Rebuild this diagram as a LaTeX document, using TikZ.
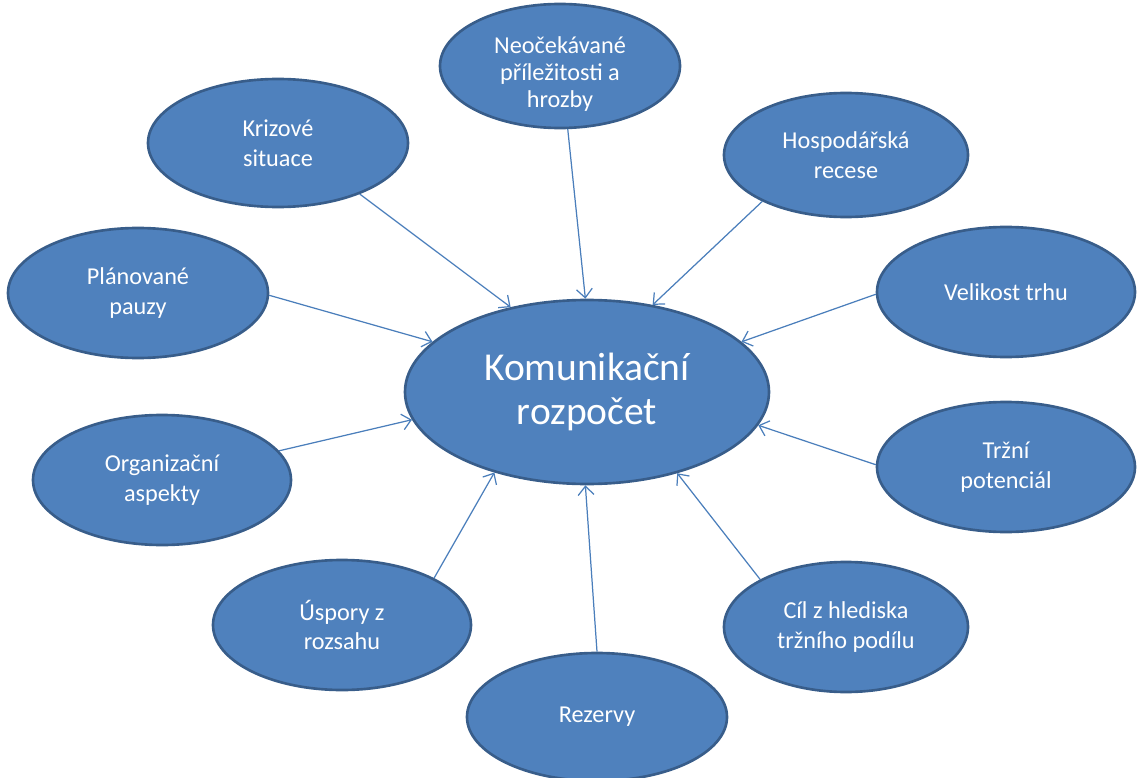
\documentclass[tikz,border=0pt]{standalone}
\usepackage{fontspec}
\setmainfont{Carlito}
\usepackage{tikz}
\usetikzlibrary{arrows.meta,shapes.geometric}
\definecolor{ovfill}{RGB}{79,129,189}
\definecolor{ovline}{RGB}{56,93,138}
\definecolor{arline}{RGB}{74,126,187}
\tikzset{
  leaf/.style={ellipse,fill=ovfill,draw=ovline,line width=1.5pt,inner sep=0pt,
    minimum width=5.16cm,minimum height=2.6cm,align=center,text=white,
    font=\fontsize{13.8}{17}\selectfont},
  hub/.style={leaf,minimum width=7.28cm,minimum height=3.68cm,
    font=\fontsize{22.5}{25.5}\selectfont},
  arr/.style={draw=arline,line width=0.7pt,-{Straight Barb[length=5pt,width=9pt]}},
}
\begin{document}
\begin{tikzpicture}
  \useasboundingbox (0,0) rectangle (22.74,-15.56);
  \node[hub] (hub) at (11.74,-7.84) {Komunikační\\rozpočet};
  \node[leaf,minimum width=4.8cm,minimum height=2.48cm,font=\fontsize{13.8}{15.3}\selectfont] (neo) at (11.2,-1.32)
    {\raisebox{-0.19cm}[\height][\depth]{\begin{tabular}{@{}c@{}}Neočekávané\\příležitosti a\\hrozby\end{tabular}}};
  \node[leaf,minimum width=4.88cm,minimum height=2.48cm] (hosp) at (16.92,-3.1) {Hospodářská\\recese};
  \node[leaf] (trh) at (20.12,-5.84) {Velikost trhu};
  \node[leaf] (pot) at (20.12,-9.34) {Tržní\\potenciál};
  \node[leaf,minimum width=4.88cm] (cil) at (16.92,-12.54) {Cíl z hlediska\\tržního podílu};
  \node[leaf,minimum width=5.2cm,minimum height=2.56cm] (rez) at (11.94,-14.34) {Rezervy};
  \node[leaf] (usp) at (6.84,-12.5) {Úspory z\\rozsahu};
  \node[leaf] (org) at (3.24,-9.6) {Organizační\\aspekty};
  \node[leaf,minimum width=5.2cm] (plan) at (2.76,-5.86) {Plánované\\pauzy};
  \node[leaf,minimum width=5.2cm,minimum height=2.56cm] (kriz) at (5.56,-2.86) {Krizové\\situace};
  % arrows towards the hub
  \foreach \n/\a/\b in {neo/277/91,hosp/209/53,trh/181/18,pot/179/349,cil/151/318,
      rez/90/269,usp/27/221,org/14/189,plan/359/162,kriz/328/132}
    \draw[arr] (\n.\a) -- (hub.\b);
\end{tikzpicture}
\end{document}
